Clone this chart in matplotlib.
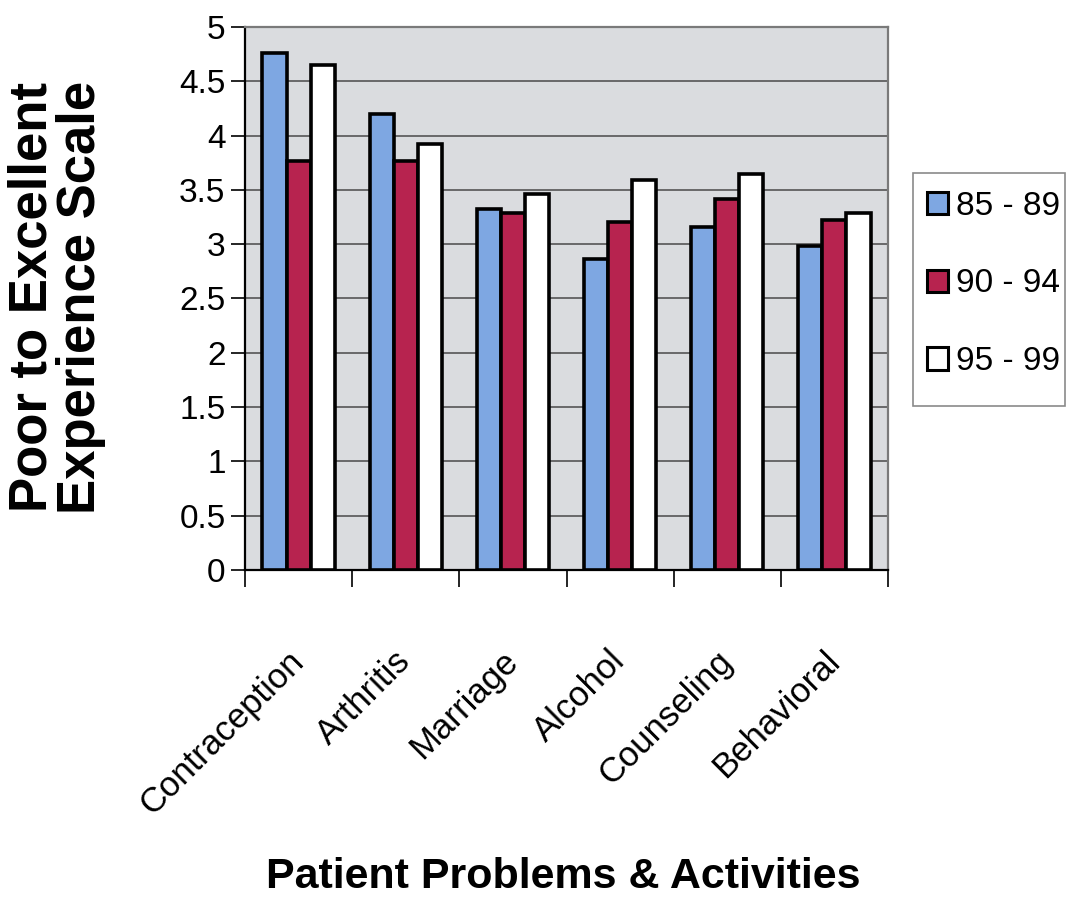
import matplotlib.pyplot as plt
import numpy as np
from matplotlib.patches import Rectangle

# survey scores per problem area, grouped by 5-year period
categories = ["Contraception", "Arthritis", "Marriage", "Alcohol", "Counseling", "Behavioral"]
periods = ["85 - 89", "90 - 94", "95 - 99"]
scores_85_89 = [4.76, 4.20, 3.32, 2.86, 3.16, 2.98]
scores_90_94 = [3.77, 3.77, 3.29, 3.20, 3.42, 3.22]
scores_95_99 = [4.65, 3.92, 3.46, 3.59, 3.65, 3.29]
colors = ["#7ea7e2", "#b7234f", "#ffffff"]
yticks = [0, 0.5, 1, 1.5, 2, 2.5, 3, 3.5, 4, 4.5, 5]

font = ["Liberation Sans", "DejaVu Sans"]

fig = plt.figure(figsize=(10.66, 9), dpi=100)
ax = fig.add_axes([245 / 1066, 1 - 570 / 900, 643 / 1066, 543 / 900])
ax.set_facecolor("#dadcdf")

x = np.arange(len(categories))
width = 0.225
series = [scores_85_89, scores_90_94, scores_95_99]
for i, (vals, col, lab) in enumerate(zip(series, colors, periods)):
    ax.bar(x + (i - 1) * width, vals, width, color=col, edgecolor="black",
           linewidth=2.6, label=lab, zorder=3)

ax.set_xlim(-0.5, len(categories) - 0.5)
ax.set_ylim(0, 5)

# horizontal grid
ax.set_yticks(yticks)
ax.set_yticklabels([f"{t:g}" for t in yticks], family=font, fontsize=24)
ax.yaxis.grid(True, color="#555555", linewidth=1.2, zorder=1)
ax.tick_params(axis="y", direction="out", length=10, width=1.2, pad=4)

# category labels at group centres, tick marks at group boundaries
ax.set_xticks(x)
ax.set_xticklabels(categories, rotation=45, ha="right", va="center",
                   rotation_mode="anchor", family=font, fontsize=25)
ax.tick_params(axis="x", which="major", length=0, pad=62)
ax.set_xticks(np.arange(-0.5, len(categories)), minor=True)
ax.tick_params(axis="x", which="minor", direction="out", length=12, width=1.2)

for side in ["left", "bottom"]:
    ax.spines[side].set_color("black")
    ax.spines[side].set_linewidth(1.6)
for side in ["top", "right"]:
    ax.spines[side].set_color("#7a7a7a")
    ax.spines[side].set_linewidth(1.6)

fig.text(57 / 1066, 1 - 297 / 900, "Poor to Excellent\nExperience Scale",
         rotation=90, ha="center", va="center", multialignment="center",
         family=font, fontweight="bold", fontsize=38, linespacing=0.95)
fig.text(563 / 1066, 1 - 877 / 900, "Patient Problems & Activities",
         ha="center", va="center", family=font, fontweight="bold", fontsize=31)

# legend box drawn separately so its size does not depend on the entries
fig.patches.append(Rectangle((913 / 1066, 1 - 406 / 900), 152 / 1066, 233 / 900,
                             transform=fig.transFigure, facecolor="white",
                             edgecolor="#8a8a8a", linewidth=1.2, zorder=-1))
leg = ax.legend(loc="center", bbox_to_anchor=(994 / 1066, 1 - 284 / 900),
                bbox_transform=fig.transFigure, prop={"family": font, "size": 24},
                handlelength=0.62, handleheight=0.66, handletextpad=0.25,
                labelspacing=1.4, borderpad=0, borderaxespad=0,
                frameon=False)
for patch in leg.get_patches():
    patch.set_linewidth(2.2)

fig.savefig("out.png", dpi=100)
